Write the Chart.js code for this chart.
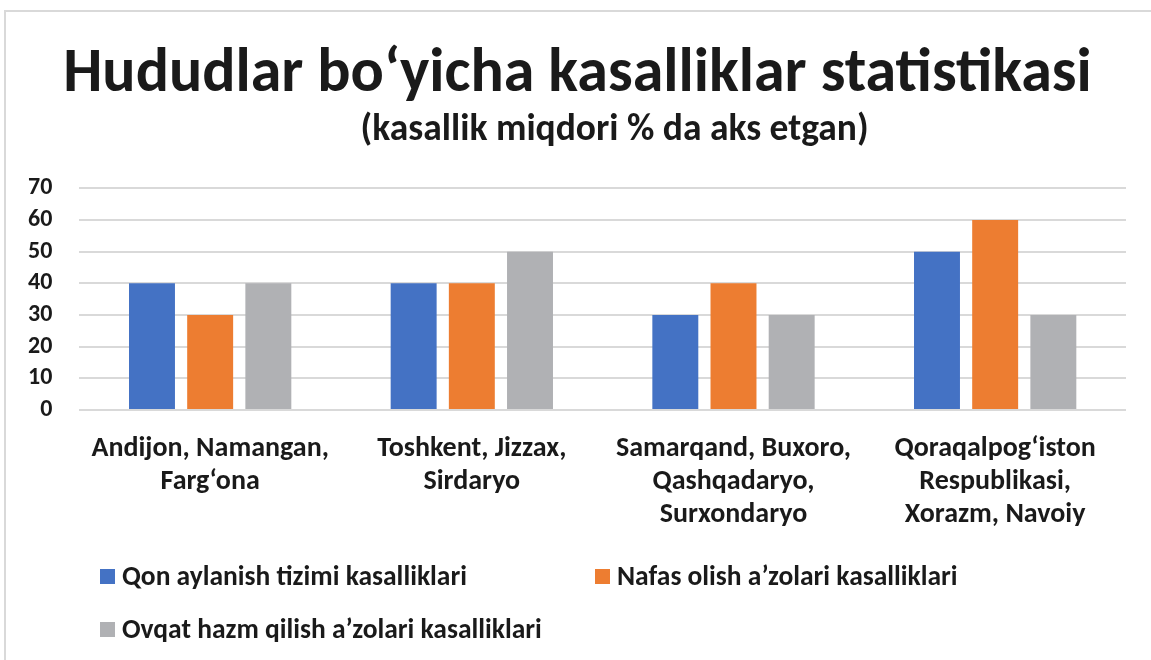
<!DOCTYPE html>
<html>
<head>
<meta charset="utf-8">
<script src="https://cdn.jsdelivr.net/npm/chart.js@4/dist/chart.umd.min.js"></script>
<style>
  html, body { margin: 0; padding: 0; background: #fff; overflow: hidden; }
  #wrap { position: relative; width: 1151px; height: 660px; }
  #frame { position: absolute; left: 4px; top: 10px; width: 1160px; height: 680px; border: 2px solid #d9d9d9; box-sizing: border-box; }
  #chart { position: absolute; left: 0; top: 0; }
  #legend { position: absolute; left: 100px; top: 560px; width: 1000px;
    font-family: Carlito, Lato, sans-serif; font-weight: bold; font-size: 27.5px; line-height: 32px; color: #1a1a1a; }
  .item { position: absolute; white-space: nowrap; display: flex; align-items: center; }
  .box { width: 15px; height: 15px; margin-right: 7px; }
</style>
</head>
<body>
<div id="wrap">
  <div id="frame"></div>
  <canvas id="chart" width="1151" height="660"></canvas>
  <div id="legend"></div>
</div>
<script>
const categories = [
  ["Andijon, Namangan,", "Farg‘ona"],
  ["Toshkent, Jizzax,", "Sirdaryo"],
  ["Samarqand, Buxoro,", "Qashqadaryo,", "Surxondaryo"],
  ["Qoraqalpog‘iston", "Respublikasi,", "Xorazm, Navoiy"]
];
const seriesNames = [
  "Qon aylanish tizimi kasalliklari",
  "Nafas olish a’zolari kasalliklari",
  "Ovqat hazm qilish a’zolari kasalliklari"
];
const qonValues = [40, 40, 30, 50];
const nafasValues = [30, 40, 40, 60];
const ovqatValues = [40, 50, 30, 30];
const colors = ["#4472C4", "#ED7D31", "#B0B1B4"];

const font = "Carlito, Lato, sans-serif";
const textColor = "#1a1a1a";

const data = {
  labels: categories,
  datasets: [qonValues, nafasValues, ovqatValues].map((vals, i) => ({
    label: seriesNames[i],
    data: vals,
    backgroundColor: colors[i],
    categoryPercentage: 0.667,
    barPercentage: 0.79
  }))
};

new Chart(document.getElementById("chart"), {
  type: "bar",
  data: data,
  options: {
    responsive: false,
    animation: false,
    layout: { padding: { top: 34, left: 1, right: 25, bottom: 113 } },
    plugins: {
      legend: { display: false },
      tooltip: { enabled: false },
      title: {
        display: true,
        // leading spaces nudge the centred line to the right like the original
        text: "  Hududlar bo‘yicha kasalliklar statistikasi",
        color: textColor,
        font: { family: font, size: 62, weight: "bold", lineHeight: 1.1 },
        padding: { top: 7, bottom: 1 }
      },
      subtitle: {
        display: true,
        text: "\u2002\u2002\u2002\u2002\u2002 (kasallik miqdori % da aks etgan)",
        color: textColor,
        font: { family: font, size: 37.5, weight: "bold", lineHeight: 1.07 },
        padding: { top: 0, bottom: 38 }
      }
    },
    scales: {
      x: {
        grid: { display: false },
        border: { display: false },
        ticks: {
          color: textColor,
          padding: 15,
          maxRotation: 0,
          autoSkip: false,
          font: { family: font, size: 28, weight: "bold", lineHeight: 1.18 }
        }
      },
      y: {
        min: 0,
        max: 70,
        grid: { color: "#d9d9d9", lineWidth: 2, drawTicks: false },
        border: { display: false },
        ticks: {
          stepSize: 10,
          autoSkip: false,
          color: textColor,
          padding: 27,
          font: { family: font, size: 24, weight: "bold" }
        }
      }
    }
  }
});

// legend drawn as html, two columns like the original
const legendPos = [[0, 0], [495, 0], [0, 53]];
const legend = document.getElementById("legend");
seriesNames.forEach((name, i) => {
  const el = document.createElement("div");
  el.className = "item";
  el.style.left = legendPos[i][0] + "px";
  el.style.top = legendPos[i][1] + "px";
  el.innerHTML = '<span class="box" style="background:' + colors[i] + '"></span>' + name;
  legend.appendChild(el);
});
</script>
</body>
</html>
